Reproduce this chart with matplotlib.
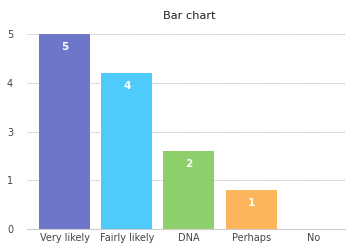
import matplotlib.pyplot as plt

categories = ["Very likely", "Fairly likely", "DNA", "Perhaps", "No"]
values = [5, 4, 2, 1, 0]
bar_heights = [4.0, 3.2, 1.6, 0.8, 0]  # drawn heights on the axis (0-4 scale)
tick_labels = ["0", "1", "3", "4", "5"]
colors = ["#6E76C9", "#4ECBFA", "#8DCF6A", "#FDB55C", "#C8C8C8"]

fig = plt.figure(figsize=(3.49, 2.45), dpi=100)
ax = fig.add_axes([27 / 349, 1 - 229 / 245, 318 / 349, 195 / 245])

x = range(len(categories))
bars = ax.bar(x, bar_heights, width=0.82, color=colors, zorder=2)

for b, v, h in zip(bars, values, bar_heights):
    if h > 0:
        ax.text(b.get_x() + b.get_width() / 2, h - 0.27, str(v), ha="center", va="center",
                color="white", fontsize=7.5, fontweight="bold")

ax.set_xlim(-0.603, 4.51)
ax.set_ylim(0, 4)
ax.set_yticks(range(5))
ax.set_yticklabels(tick_labels)
ax.set_xticks(list(x))
ax.set_xticklabels(categories)
ax.tick_params(length=0, labelsize=7, colors="#444444")
ax.tick_params(axis="y", pad=10)
ax.tick_params(axis="x", pad=3)
ax.grid(axis="y", linestyle=(0, (1, 1)), color="#aaaaaa", linewidth=0.6, zorder=0)
for s in ["top", "right", "left"]:
    ax.spines[s].set_visible(False)
ax.spines["bottom"].set_color("#cccccc")
ax.spines["bottom"].set_linewidth(0.8)
ax.set_title("Bar chart", fontsize=8.2, color="#222222", pad=11, x=0.51)

fig.savefig("out.png", dpi=100)
